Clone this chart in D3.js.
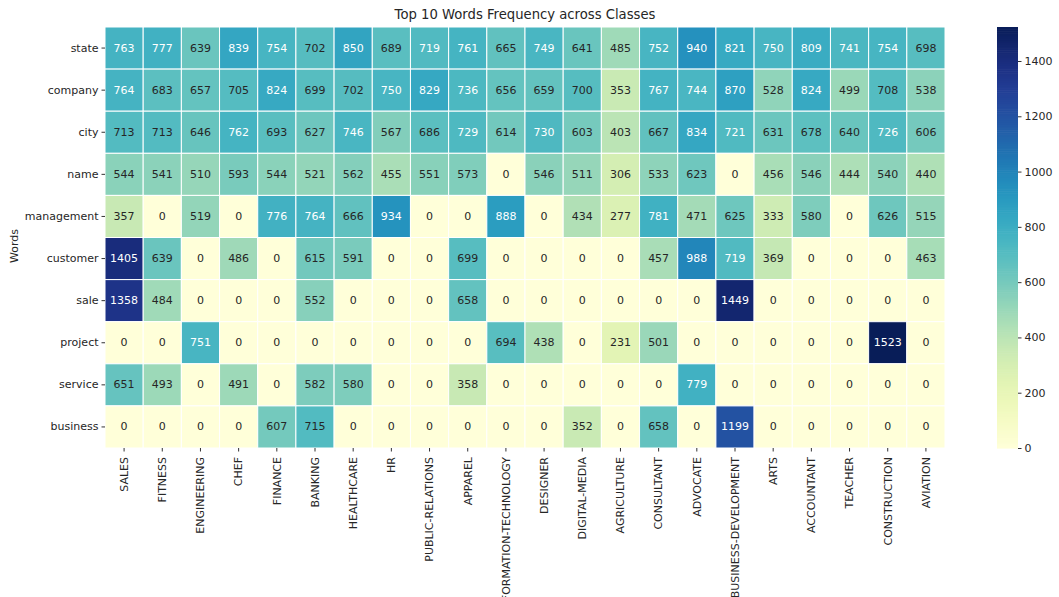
<!doctype html>
<meta charset="utf-8">
<style>
body { margin: 0; background: #fff; }
text { font-family: "DejaVu Sans", sans-serif; }
</style>
<body>
<div id="viz"></div>
<script src="https://d3js.org/d3.v7.min.js"></script>
<script>
// classes (columns) and words (rows)
var classes = ["SALES", "FITNESS", "ENGINEERING", "CHEF", "FINANCE", "BANKING", "HEALTHCARE", "HR",
  "PUBLIC-RELATIONS", "APPAREL", "INFORMATION-TECHNOLOGY", "DESIGNER", "DIGITAL-MEDIA", "AGRICULTURE",
  "CONSULTANT", "ADVOCATE", "BUSINESS-DEVELOPMENT", "ARTS", "ACCOUNTANT", "TEACHER", "CONSTRUCTION", "AVIATION"];
var words = ["state", "company", "city", "name", "management", "customer", "sale", "project", "service", "business"];

var state      = [763, 777, 639, 839, 754, 702, 850, 689, 719, 761, 665, 749, 641, 485, 752, 940, 821, 750, 809, 741, 754, 698];
var company    = [764, 683, 657, 705, 824, 699, 702, 750, 829, 736, 656, 659, 700, 353, 767, 744, 870, 528, 824, 499, 708, 538];
var city       = [713, 713, 646, 762, 693, 627, 746, 567, 686, 729, 614, 730, 603, 403, 667, 834, 721, 631, 678, 640, 726, 606];
var name_      = [544, 541, 510, 593, 544, 521, 562, 455, 551, 573, 0, 546, 511, 306, 533, 623, 0, 456, 546, 444, 540, 440];
var management = [357, 0, 519, 0, 776, 764, 666, 934, 0, 0, 888, 0, 434, 277, 781, 471, 625, 333, 580, 0, 626, 515];
var customer   = [1405, 639, 0, 486, 0, 615, 591, 0, 0, 699, 0, 0, 0, 0, 457, 988, 719, 369, 0, 0, 0, 463];
var sale       = [1358, 484, 0, 0, 0, 552, 0, 0, 0, 658, 0, 0, 0, 0, 0, 0, 1449, 0, 0, 0, 0, 0];
var project    = [0, 0, 751, 0, 0, 0, 0, 0, 0, 0, 694, 438, 0, 231, 501, 0, 0, 0, 0, 0, 1523, 0];
var service    = [651, 493, 0, 491, 0, 582, 580, 0, 0, 358, 0, 0, 0, 0, 0, 779, 0, 0, 0, 0, 0, 0];
var business   = [0, 0, 0, 0, 607, 715, 0, 0, 0, 0, 0, 0, 352, 0, 658, 0, 1199, 0, 0, 0, 0, 0];
var rows = [state, company, city, name_, management, customer, sale, project, service, business];

var cbTicks = [0, 200, 400, 600, 800, 1000, 1200, 1400];

var W = 1059, H = 597;
var svg = d3.select("#viz").append("svg").attr("width", W).attr("height", H);

var cells = [];
rows.forEach(function(r, i) {
  r.forEach(function(v, j) { cells.push({word: words[i], cls: classes[j], v: v}); });
});
var vmax = d3.max(cells, function(d) { return d.v; });

var x = d3.scaleBand().domain(classes).range([105, 945]);
var y = d3.scaleBand().domain(words).range([27, 448]);
var color = d3.scaleSequential(d3.interpolateYlGnBu).domain([0, vmax]);

function lum(c) {
  var rgb = d3.rgb(c);
  var f = function(u) { u = u / 255; return u <= 0.03928 ? u / 12.92 : Math.pow((u + 0.055) / 1.055, 2.4); };
  return 0.2126 * f(rgb.r) + 0.7152 * f(rgb.g) + 0.0722 * f(rgb.b);
}

svg.selectAll("rect.cell").data(cells).enter().append("rect")
  .attr("class", "cell")
  .attr("x", function(d) { return x(d.cls); })
  .attr("y", function(d) { return y(d.word); })
  .attr("width", x.bandwidth())
  .attr("height", y.bandwidth())
  .attr("fill", function(d) { return color(d.v); })
  .attr("stroke", "#fff").attr("stroke-width", 1);

svg.selectAll("text.ann").data(cells).enter().append("text")
  .attr("class", "ann")
  .attr("x", function(d) { return x(d.cls) + x.bandwidth() / 2; })
  .attr("y", function(d) { return y(d.word) + y.bandwidth() / 2; })
  .attr("text-anchor", "middle").attr("dominant-baseline", "central")
  .attr("font-size", 11)
  .attr("fill", function(d) { return lum(color(d.v)) > 0.408 ? "#262626" : "#fff"; })
  .text(function(d) { return d.v; });

// axes
var yAxis = svg.append("g").attr("transform", "translate(105,0)")
  .call(d3.axisLeft(y).tickSize(3.5).tickPadding(3));
var xAxis = svg.append("g").attr("transform", "translate(0,448)")
  .call(d3.axisBottom(x).tickSize(3.5).tickPadding(3));
[yAxis, xAxis].forEach(function(g) {
  g.select(".domain").remove();
  g.selectAll("line").attr("stroke", "#333");
  g.selectAll("text").attr("font-size", 11).attr("fill", "#262626")
    .style("font-family", "'DejaVu Sans', sans-serif");
});
xAxis.selectAll("text")
  .attr("transform", "rotate(-90)")
  .attr("text-anchor", "end")
  .attr("dy", "0.35em")
  .attr("x", -9).attr("y", 0);

svg.append("text").attr("x", 525).attr("y", 19).attr("text-anchor", "middle")
  .attr("font-size", 13.2).attr("fill", "#262626").text("Top 10 Words Frequency across Classes");
svg.append("text").attr("transform", "translate(18,246) rotate(-90)").attr("text-anchor", "middle")
  .attr("font-size", 11).attr("fill", "#262626").text("Words");

// colorbar
var cy = d3.scaleLinear().domain([0, vmax]).range([448, 27]);
var steps = d3.range(0, 200);
svg.append("g").selectAll("rect").data(steps).enter().append("rect")
  .attr("x", 997).attr("width", 21)
  .attr("y", function(i) { return cy(vmax * (i + 1) / 200); })
  .attr("height", function(i) { return cy(vmax * i / 200) - cy(vmax * (i + 1) / 200) + 0.6; })
  .attr("fill", function(i) { return color(vmax * (i + 0.5) / 200); });
var cAxis = svg.append("g").attr("transform", "translate(1018,0)")
  .call(d3.axisRight(cy).tickValues(cbTicks).tickFormat(d3.format("d")).tickSize(3.5).tickPadding(3));
cAxis.select(".domain").remove();
cAxis.selectAll("line").attr("stroke", "#333");
cAxis.selectAll("text").attr("font-size", 11).attr("fill", "#262626")
  .style("font-family", "'DejaVu Sans', sans-serif");
</script>
</body>
</html>
